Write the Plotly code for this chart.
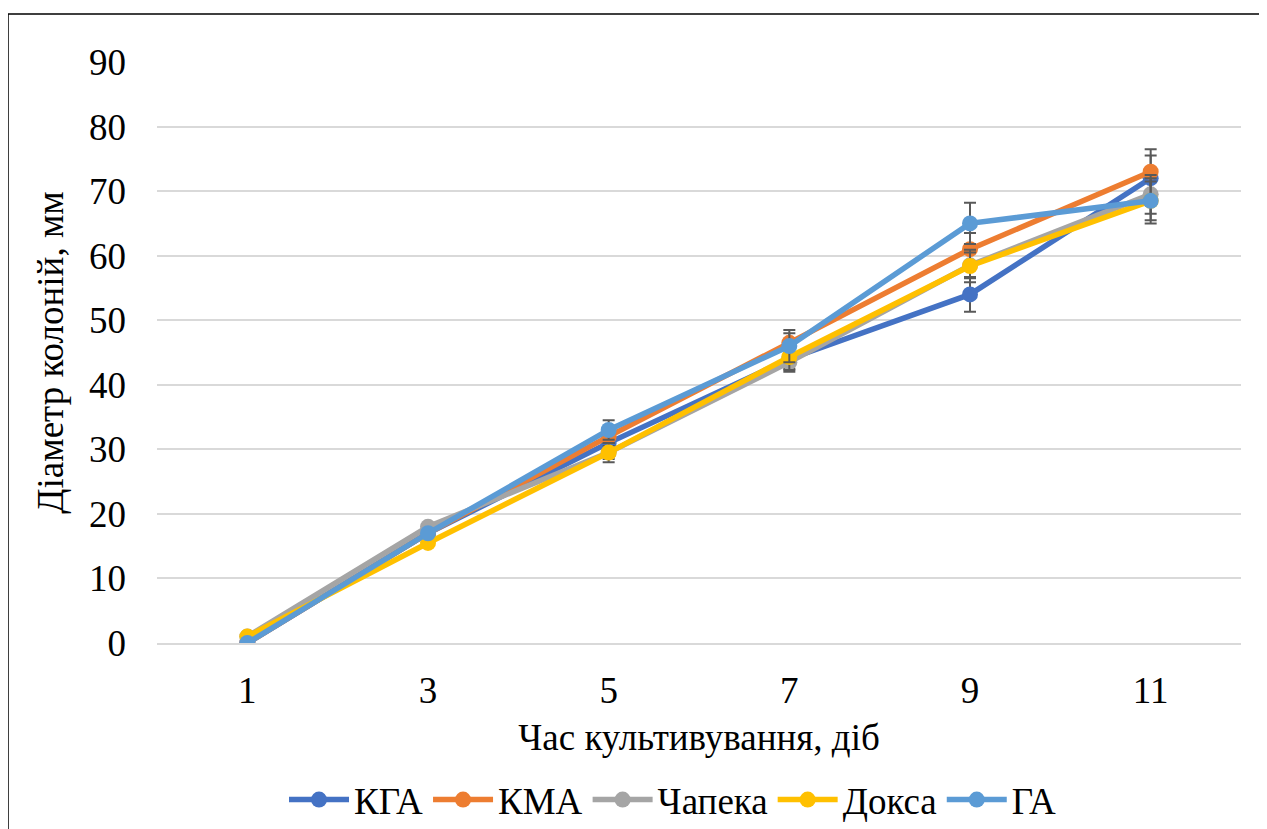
import plotly.graph_objects as go

days = ["1", "3", "5", "7", "9", "11"]
series_names = ["КГА", "КМА", "Чапека", "Докса", "ГА"]
kga = [0, 17, 31, 44, 54, 72]
kma = [0, 17, 32, 46.5, 61, 73]
chapeka = [1, 18, 29.5, 43.5, 58.5, 69.5]
doksa = [1, 15.5, 29.5, 44.3, 58.4, 68.5]
ga = [0, 17, 33, 46, 65, 68.5]
kga_err = [0, 0.5, 1.0, 1.5, 2.7, 3.5]
kma_err = [0, 0.5, 1.0, 1.5, 2.5, 3.5]
chapeka_err = [0, 0.5, 1.0, 1.5, 2.0, 3.0]
doksa_err = [0, 0.5, 1.5, 2.0, 2.5, 3.0]
ga_err = [0, 0.5, 1.5, 2.5, 3.2, 3.5]
y_ticks = [0, 10, 20, 30, 40, 50, 60, 70, 80, 90]

colors = ["#4472C4", "#ED7D31", "#A5A5A5", "#FFC000", "#5B9BD5"]
values = [kga, kma, chapeka, doksa, ga]
errs = [kga_err, kma_err, chapeka_err, doksa_err, ga_err]

FONT = "'Liberation Serif', 'Times New Roman', serif"
FS = 37

fig = go.Figure()
for name, vals, err, col in zip(series_names, values, errs, colors):
    fig.add_trace(go.Scatter(
        x=days, y=vals, name=name, mode="lines+markers",
        line=dict(color=col, width=5.5),
        marker=dict(color=col, size=16),
        error_y=dict(type="data", array=err, visible=True,
                     color="#595959", thickness=2, width=6),
    ))

OFF = 8  # page body offset
W, H = 1267, 829
L, R, T, B = 157 - OFF, 26 + OFF, 62 - OFF, 186 + OFF
pw = W - L - R
ph = H - T - B

fig.update_layout(
    width=W, height=H,
    margin=dict(l=L, r=R, t=T, b=B, autoexpand=False),
    paper_bgcolor="white", plot_bgcolor="white",
    font=dict(family=FONT, color="black", size=FS),
    showlegend=True,
    legend=dict(orientation="h", x=(673 - OFF) / W, xanchor="center", xref="container",
                y=(829 - 800 + OFF) / H, yref="container",
                yanchor="middle", font=dict(size=FS, family=FONT),
                itemwidth=60, tracegroupgap=0),
    xaxis=dict(type="category", categoryorder="array", categoryarray=days,
               showgrid=False, showline=True, linecolor="#D9D9D9", linewidth=1.5,
               ticks="", tickfont=dict(size=FS, family=FONT), automargin=False,
               ticklabelstandoff=14,
               title=dict(text="Час культивування, діб", font=dict(size=FS, family=FONT),
                          standoff=14),
               range=[-0.5, 5.5], zeroline=False),
    yaxis=dict(range=[0, 90], tickvals=y_ticks, showgrid=True, gridcolor="#D9D9D9",
               gridwidth=1.5, zeroline=False, showline=False, ticks="",
               automargin=False,
               tickfont=dict(size=FS, family=FONT), ticklabelstandoff=30,
               title=dict(text="Діаметр колоній, мм", font=dict(size=FS, family=FONT),
                          standoff=14)),
)

fig.add_shape(type="rect", xref="paper", yref="paper",
              x0=(8 - 157) / pw, x1=(1262 - 157) / pw,
              y0=(643 - 840) / ph, y1=(643 - 14) / ph,
              line=dict(color="black", width=1.5), fillcolor="rgba(0,0,0,0)", layer="below")

fig.write_html("out.html")
